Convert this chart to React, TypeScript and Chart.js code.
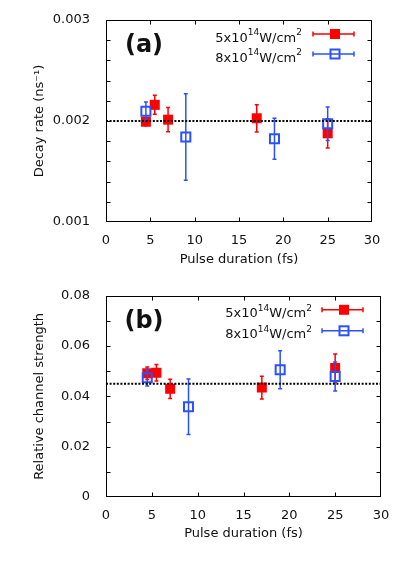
import React, { useEffect, useRef } from 'react';
import { Chart, registerables } from 'chart.js';

Chart.register(...registerables);

const FONT = '"DejaVu Sans", Verdana, sans-serif';
const RED = '#ff0000';
const BLUE = '#2b50ff';
const TEXT = '#111111';

// Pulse durations (fs)
const redPulse = [4.5, 5.5, 7, 17, 25];
const bluePulse = [4.5, 9, 19, 25];
const refPulse = [0, 30];

// Panel (a): decay rate (ns^-1)
const decayRed = [0.001993, 0.00216, 0.002013, 0.002027, 0.001878];
const decayRedErr = [0.00004, 0.000094, 0.00012, 0.000135, 0.000145];
const decayBlue = [0.002097, 0.001842, 0.001825, 0.001973];
const decayBlueErr = [0.00009, 0.000429, 0.000203, 0.000165];
const decayRef = [0.002, 0.002];

// Panel (b): relative channel strength
const strengthRed = [0.0492, 0.0494, 0.043, 0.0435, 0.0513];
const strengthRedErr = [0.0025, 0.0033, 0.0038, 0.0045, 0.0056];
const strengthBlue = [0.0474, 0.0359, 0.0506, 0.0479];
const strengthBlueErr = [0.0033, 0.011, 0.0076, 0.0058];
const strengthRef = [0.045, 0.045];

// Legend text pieces
const legendIntensity = ['5', '8'];
const panelLabels = ['(a)', '(b)'];

const pts = (xs: number[], ys: number[]) => xs.map((x, i) => ({ x, y: ys[i] }));

const framePlugin = {
  id: 'frame',
  beforeDatasetDraw(chart: any, args: any) {
    const ds = chart.data.datasets[args.index];
    if (!ds.errors) return;
    const { ctx } = chart;
    const ys = chart.scales.y;
    ctx.save();
    ctx.strokeStyle = ds.borderColor;
    ctx.lineWidth = 1.5;
    ctx.beginPath();
    ds.data.forEach((p: any, i: number) => {
      const el = args.meta.data[i];
      const px = el.x;
      const t = ys.getPixelForValue(p.y + ds.errors[i]);
      const b = ys.getPixelForValue(p.y - ds.errors[i]);
      ctx.moveTo(px, t);
      ctx.lineTo(px, b);
      ctx.moveTo(px - 2, t);
      ctx.lineTo(px + 2, t);
      ctx.moveTo(px - 2, b);
      ctx.lineTo(px + 2, b);
    });
    ctx.stroke();
    ctx.restore();
  },
  afterDraw(chart: any) {
    const { ctx, chartArea: a, scales } = chart;
    const o = chart.options.plugins.frame;
    ctx.save();
    ctx.strokeStyle = '#000';
    ctx.lineWidth = 1;
    const L = Math.round(a.left) + 0.5;
    const R = Math.round(a.right) - 0.5;
    const T = Math.round(a.top) + 0.5;
    const B = Math.round(a.bottom) - 0.5;
    ctx.strokeRect(L, T, R - L, B - T);
    const len = 4;
    ctx.beginPath();
    for (const t of scales.y.ticks) {
      if (t.value <= scales.y.min || t.value >= scales.y.max) continue;
      const p = Math.round(scales.y.getPixelForValue(t.value)) + 0.5;
      ctx.moveTo(L, p);
      ctx.lineTo(L + len, p);
      ctx.moveTo(R, p);
      ctx.lineTo(R - len, p);
    }
    for (const t of scales.x.ticks) {
      if (t.value <= scales.x.min || t.value >= scales.x.max) continue;
      const p = Math.round(scales.x.getPixelForValue(t.value)) + 0.5;
      ctx.moveTo(p, B);
      ctx.lineTo(p, B - len);
      ctx.moveTo(p, T);
      ctx.lineTo(p, T + len);
    }
    ctx.stroke();

    // panel label
    ctx.fillStyle = TEXT;
    ctx.font = `bold 24px ${FONT}`;
    ctx.textAlign = 'center';
    ctx.textBaseline = 'middle';
    ctx.fillText(o.label, a.left + 38, a.top + 26);

    // legend
    o.items.forEach((it: any, i: number) => {
      const rowY = a.top + o.rows[i];
      const parts = [
        { t: it.base, f: 13, dy: 0 },
        { t: '14', f: 9, dy: -6.7 },
        { t: 'W/cm', f: 13, dy: 0 },
        { t: '2', f: 9, dy: -6.7 },
      ];
      let total = 0;
      parts.forEach((p) => {
        ctx.font = `${p.f}px ${FONT}`;
        total += ctx.measureText(p.t).width;
      });
      let x = a.right + o.textRight - total;
      const base = rowY + 7.5;
      ctx.textAlign = 'left';
      ctx.textBaseline = 'alphabetic';
      ctx.fillStyle = TEXT;
      parts.forEach((p) => {
        ctx.font = `${p.f}px ${FONT}`;
        ctx.fillText(p.t, x, base + p.dy);
        x += ctx.measureText(p.t).width;
      });
      // symbol
      const x1 = a.right - 59;
      const x2 = a.right - 18;
      const cx = a.right - 37;
      ctx.strokeStyle = it.color;
      ctx.lineWidth = 1.5;
      ctx.beginPath();
      ctx.moveTo(x1, rowY);
      ctx.lineTo(x2, rowY);
      ctx.moveTo(x1, rowY - 2.5);
      ctx.lineTo(x1, rowY + 2.5);
      ctx.moveTo(x2, rowY - 2.5);
      ctx.lineTo(x2, rowY + 2.5);
      ctx.stroke();
      if (it.filled) {
        ctx.fillStyle = it.color;
        ctx.fillRect(cx - 5, rowY - 5, 10, 10);
      } else {
        ctx.lineWidth = 2;
        ctx.strokeRect(cx - 4.5, rowY - 4.5, 9, 9);
      }
    });
    ctx.restore();
  },
};

function makeConfig(p: any): any {
  return {
    type: 'scatter',
    data: {
      datasets: [
        {
          label: 'reference',
          data: pts(refPulse, p.ref),
          showLine: true,
          borderColor: '#000',
          borderWidth: 2,
          borderDash: [2, 1.6],
          pointRadius: 0,
          order: -1,
        },
        {
          label: '8x10^14W/cm^2',
          data: pts(bluePulse, p.blue),
          errors: p.blueErr,
          pointStyle: 'rect',
          pointRadius: 6.4,
          backgroundColor: 'rgba(0,0,0,0)',
          borderColor: BLUE,
          borderWidth: 2,
          order: 0,
        },
        {
          label: '5x10^14W/cm^2',
          data: pts(redPulse, p.red),
          errors: p.redErr,
          pointStyle: 'rect',
          pointRadius: 7.07,
          backgroundColor: RED,
          borderColor: RED,
          borderWidth: 0,
          order: 1,
        },
      ],
    },
    options: {
      animation: false,
      responsive: false,
      devicePixelRatio: 1,
      events: [],
      layout: { padding: { left: 0, right: p.padRight, top: p.padTop, bottom: 0 } },
      plugins: {
        legend: { display: false },
        tooltip: { enabled: false },
        frame: {
          label: p.label,
          rows: p.rows,
          textRight: p.textRight,
          items: [
            { base: legendIntensity[0] + 'x10', color: RED, filled: true },
            { base: legendIntensity[1] + 'x10', color: BLUE, filled: false },
          ],
        },
      },
      scales: {
        x: {
          type: 'linear',
          position: 'bottom',
          min: 0,
          max: 30,
          grid: { display: false },
          border: { display: false },
          ticks: {
            stepSize: 5,
            autoSkip: false,
            maxRotation: 0,
            padding: 3,
            color: TEXT,
            font: { family: FONT, size: 13 },
            callback: (v: number) => String(v),
          },
          title: {
            display: true,
            text: 'Pulse duration (fs)',
            color: TEXT,
            font: { family: FONT, size: 13 },
            padding: { top: 0, bottom: p.xTitlePad },
          },
          afterFit: (s: any) => {
            s.height = p.xHeight;
          },
        },
        y: {
          type: 'linear',
          position: 'left',
          min: p.yMin,
          max: p.yMax,
          grid: { display: false },
          border: { display: false },
          ticks: {
            stepSize: p.yStep,
            autoSkip: false,
            padding: 8,
            color: TEXT,
            font: { family: FONT, size: 13 },
            callback: p.yLabel,
          },
          title: {
            display: true,
            text: p.yTitle,
            color: TEXT,
            font: { family: FONT, size: 13 },
            padding: { top: 32, bottom: 0 },
          },
          afterFit: (s: any) => {
            s.width = 106;
          },
        },
      },
    },
    plugins: [framePlugin],
  };
}

export default function App() {
  const topRef = useRef<HTMLCanvasElement>(null);
  const botRef = useRef<HTMLCanvasElement>(null);

  useEffect(() => {
    const c1 = new Chart(
      topRef.current as HTMLCanvasElement,
      makeConfig({
        red: decayRed,
        redErr: decayRedErr,
        blue: decayBlue,
        blueErr: decayBlueErr,
        ref: decayRef,
        label: panelLabels[0],
        rows: [14, 34],
        textRight: -70,
        padRight: 26,
        padTop: 20,
        xHeight: 58,
        xTitlePad: 13,
        yMin: 0.001,
        yMax: 0.003,
        yStep: 0.0002,
        yTitle: 'Decay rate (ns\u207B\u00B9)',
        yLabel: (v: number) => {
          const k = v * 1000;
          return Math.abs(k - Math.round(k)) < 1e-6 ? (Math.round(k) / 1000).toFixed(3) : '';
        },
      })
    );
    const c2 = new Chart(
      botRef.current as HTMLCanvasElement,
      makeConfig({
        red: strengthRed,
        redErr: strengthRedErr,
        blue: strengthBlue,
        blueErr: strengthBlueErr,
        ref: strengthRef,
        label: panelLabels[1],
        rows: [14, 35],
        textRight: -69,
        padRight: 17,
        padTop: 14,
        xHeight: 76,
        xTitlePad: 32,
        yMin: 0,
        yMax: 0.08,
        yStep: 0.01,
        yTitle: 'Relative channel strength',
        yLabel: (v: number) => {
          const k = v * 50;
          if (Math.abs(k - Math.round(k)) > 1e-6) return '';
          if (Math.abs(v) < 1e-9) return '0';
          return (Math.round(k) / 50).toFixed(2);
        },
      })
    );
    return () => {
      c1.destroy();
      c2.destroy();
    };
  }, []);

  return (
    <div style={{ position: 'absolute', left: 0, top: 0, width: 398, height: 573, background: '#fff' }}>
      <canvas
        ref={topRef}
        width={398}
        height={280}
        style={{ position: 'absolute', left: 0, top: 0, width: 398, height: 280, display: 'block' }}
      />
      <canvas
        ref={botRef}
        width={398}
        height={293}
        style={{ position: 'absolute', left: 0, top: 280, width: 398, height: 293, display: 'block' }}
      />
    </div>
  );
}
